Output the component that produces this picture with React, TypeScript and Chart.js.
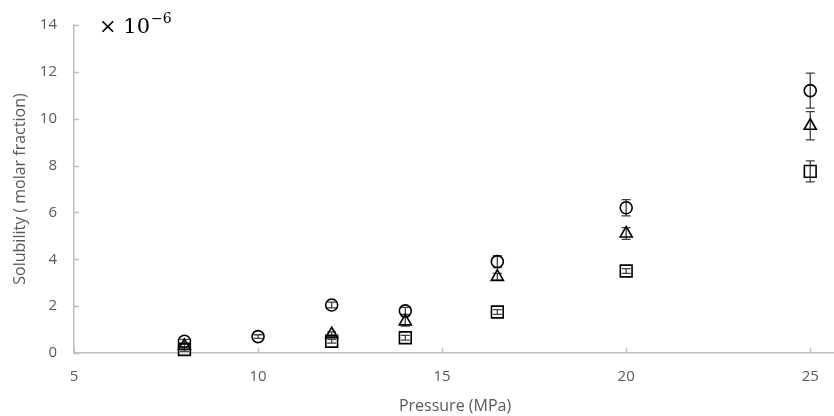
import { useEffect, useRef } from "react";
import { Chart, registerables } from "chart.js";

Chart.register(...registerables);

// Pressure (MPa) and solubility (x 10^-6 molar fraction)
const circleX = [8, 10, 12, 14, 16.5, 20, 25];
const circleY = [0.5, 0.7, 2.05, 1.8, 3.9, 6.2, 11.2];
const circleErr = [0.08, 0.08, 0.12, 0.15, 0.25, 0.35, 0.75];

const triangleX = [8, 12, 14, 16.5, 20, 25];
const triangleY = [0.3, 0.8, 1.35, 3.25, 5.1, 9.7];
const triangleErr = [0.08, 0.1, 0.2, 0.15, 0.25, 0.6];

const squareX = [8, 12, 14, 16.5, 20, 25];
const squareY = [0.15, 0.5, 0.65, 1.75, 3.5, 7.75];
const squareErr = [0.08, 0.08, 0.1, 0.1, 0.1, 0.45];

const xTickValues = [5, 10, 15, 20, 25];
const yTickValues = [0, 2, 4, 6, 8, 10, 12, 14];

const xTitle = "Pressure (MPa)";
const yTitle = "Solubility ( molar fraction)";
const multiplierBase = "× 10";
const multiplierExp = "−6";

const FONT = "'Open Sans', 'Noto Sans', sans-serif";
const AXIS_GRAY = "#bfbfbf";
const TEXT_GRAY = "#595959";

const toPoints = (xs: number[], ys: number[]) => xs.map((x, i) => ({ x, y: ys[i] }));

const errorBarPlugin = {
  id: "errorBars",
  beforeDatasetsDraw(chart: any) {
    const ctx = chart.ctx;
    const ys = chart.scales.y;
    ctx.save();
    ctx.strokeStyle = "#404040";
    ctx.lineWidth = 1.3;
    chart.data.datasets.forEach((ds: any, i: number) => {
      const meta = chart.getDatasetMeta(i);
      meta.data.forEach((pt: any, j: number) => {
        const v = ds.data[j].y;
        const e = ds.errors[j];
        const top = ys.getPixelForValue(v + e);
        const bot = ys.getPixelForValue(v - e);
        const x = pt.x;
        const cap = 4.5;
        ctx.beginPath();
        ctx.moveTo(x, top);
        ctx.lineTo(x, bot);
        ctx.moveTo(x - cap, top);
        ctx.lineTo(x + cap, top);
        ctx.moveTo(x - cap, bot);
        ctx.lineTo(x + cap, bot);
        ctx.stroke();
      });
    });
    ctx.restore();
  },
};

const innerTicksPlugin = {
  id: "innerTicks",
  afterDatasetsDraw(chart: any) {
    const ctx = chart.ctx;
    const { x, y } = chart.scales;
    const area = chart.chartArea;
    ctx.save();
    ctx.strokeStyle = AXIS_GRAY;
    ctx.lineWidth = 1.3;
    ctx.beginPath();
    x.ticks.forEach((t: any) => {
      const px = Math.round(x.getPixelForValue(t.value)) + 0.5;
      ctx.moveTo(px, area.bottom);
      ctx.lineTo(px, area.bottom - 5);
    });
    y.ticks.forEach((t: any) => {
      const py = Math.round(y.getPixelForValue(t.value)) + 0.5;
      ctx.moveTo(area.left, py);
      ctx.lineTo(area.left + 5, py);
    });
    ctx.stroke();
    ctx.restore();
  },
};

const multiplierPlugin = {
  id: "multiplier",
  afterDraw(chart: any) {
    const ctx = chart.ctx;
    ctx.save();
    ctx.fillStyle = "#000";
    ctx.textBaseline = "alphabetic";
    ctx.textAlign = "left";
    ctx.font = "21px 'DejaVu Serif', serif";
    ctx.fillText(multiplierBase, 99, 33);
    const w = ctx.measureText(multiplierBase).width;
    ctx.font = "14px 'DejaVu Serif', serif";
    ctx.fillText(multiplierExp, 99 + w + 1, 23);
    ctx.restore();
  },
};

export default function App() {
  const ref = useRef<HTMLCanvasElement>(null);

  useEffect(() => {
    document.body.style.margin = "0";
    if (!ref.current) return;
    const common = {
      showLine: false,
      borderColor: "#000",
      backgroundColor: "rgba(255,255,255,0)",
      borderWidth: 1.6,
      pointBorderWidth: 1.6,
      clip: false as any,
    };
    const chart = new Chart(ref.current, {
      type: "scatter",
      data: {
        datasets: [
          {
            ...common,
            label: "circle",
            data: toPoints(circleX, circleY),
            pointStyle: "circle",
            pointRadius: 6,
            errors: circleErr,
          } as any,
          {
            ...common,
            label: "triangle",
            data: toPoints(triangleX, triangleY),
            pointStyle: "triangle",
            pointRadius: 7,
            errors: triangleErr,
          } as any,
          {
            ...common,
            label: "square",
            data: toPoints(squareX, squareY),
            pointStyle: "rect",
            pointRadius: 8.3,
            errors: squareErr,
          } as any,
        ],
      },
      options: {
        animation: false,
        responsive: false,
        events: [],
        layout: { autoPadding: false, padding: { top: 25, right: 0, left: 0, bottom: 0 } },
        plugins: {
          legend: { display: false },
          tooltip: { enabled: false },
        },
        scales: {
          x: {
            type: "linear",
            min: 5,
            max: 25.7,
            afterBuildTicks: (s: any) => {
              s.ticks = xTickValues.map((v) => ({ value: v }));
            },
            afterFit: (s: any) => {
              s.height = 63;
              s.paddingLeft = 0;
              s.paddingRight = 0;
            },
            grid: { display: false, drawTicks: false },
            border: { display: true, color: AXIS_GRAY, width: 1.5 },
            ticks: {
              color: TEXT_GRAY,
              font: { family: FONT, size: 15 },
              padding: 15,
              maxRotation: 0,
            },
            title: {
              display: true,
              text: xTitle,
              color: TEXT_GRAY,
              font: { family: FONT, size: 16 },
              padding: { top: 2, bottom: 0 },
            },
          },
          y: {
            type: "linear",
            min: 0,
            max: 14,
            afterBuildTicks: (s: any) => {
              s.ticks = yTickValues.map((v) => ({ value: v }));
            },
            afterFit: (s: any) => {
              s.width = 74;
              s.paddingTop = 0;
              s.paddingBottom = 0;
            },
            grid: { display: false, drawTicks: false },
            border: { display: true, color: AXIS_GRAY, width: 1.5 },
            ticks: {
              color: TEXT_GRAY,
              font: { family: FONT, size: 15 },
              padding: 17,
            },
            title: {
              display: true,
              text: yTitle,
              color: TEXT_GRAY,
              font: { family: FONT, size: 16 },
              padding: { top: 11, bottom: 0 },
            },
          },
        },
      },
      plugins: [errorBarPlugin, innerTicksPlugin, multiplierPlugin],
    });
    return () => chart.destroy();
  }, []);

  return (
    <div style={{ width: 834, height: 416, overflow: "hidden" }}>
      <canvas ref={ref} width={836} height={416} style={{ display: "block", width: 836, height: 416 }} />
    </div>
  );
}
